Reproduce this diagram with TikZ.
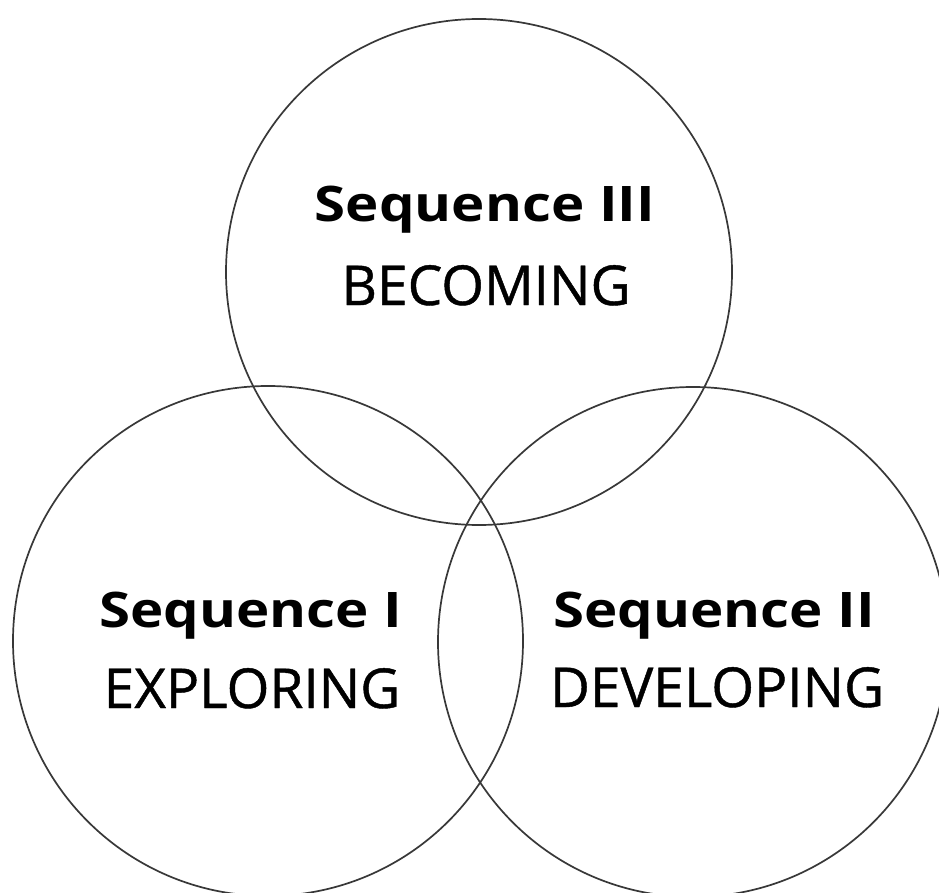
\documentclass[tikz,border=0pt]{standalone}
\usepackage{fontspec}
\setmainfont{Open Sans}
\newfontfamily\headfont[FakeStretch=1.15]{Open Sans}
\newfontfamily\wordfont[FakeBold=0.8]{Open Sans}
\begin{document}
\begin{tikzpicture}[x=1pt,y=-1pt,
  ring/.style={draw=black!78, line width=1.7pt, circle, minimum size=#1, inner sep=0pt},
  head/.style={anchor=base, font=\headfont\fontsize{49}{54}\selectfont\bfseries, inner sep=0pt},
  word/.style={anchor=base, font=\wordfont\fontsize{55}{60}\selectfont, inner sep=0pt}]
  \useasboundingbox (0,0) rectangle (939,893);
  \clip (0,0) rectangle (939,893);
  \fill[white] (0,0) rectangle (939,893);
  \node[ring=506pt] (top) at (479,272) {};
  \node[ring=510pt] (left) at (268,641) {};
  \node[ring=510pt] (right) at (693,642) {};
  \node[head] (h3) at (485,222) {Sequence III};
  \node[word] (w3) at (486,305) {BECOMING};
  \node[head] (h1) at (251,627) {Sequence I};
  \node[word] (w1) at (252,708) {EXPLORING};
  \node[head] (h2) at (714,627) {Sequence II};
  \node[word] (w2) at (717,707) {DEVELOPING};
\end{tikzpicture}
\end{document}
